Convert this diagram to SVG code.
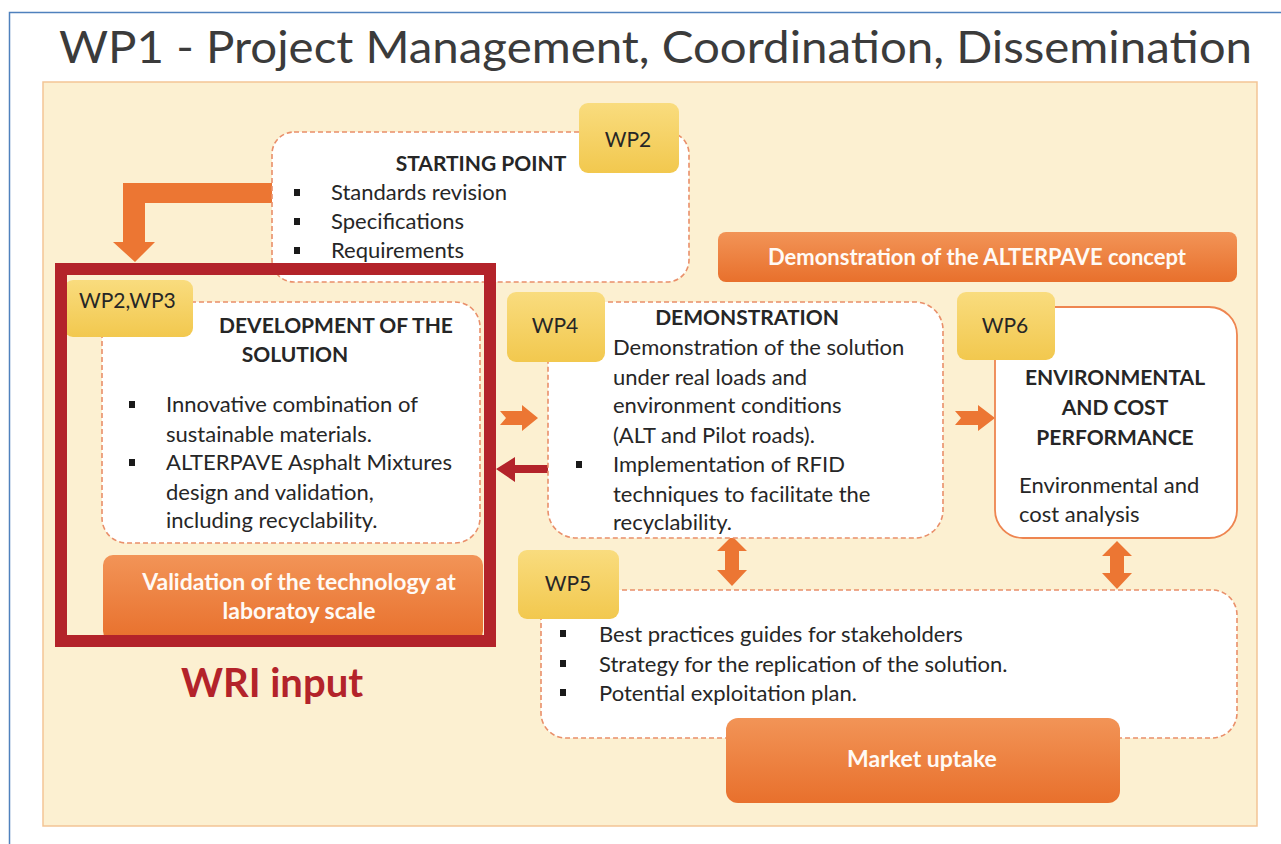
<svg xmlns="http://www.w3.org/2000/svg" width="1281" height="844" viewBox="0 0 1281 844">
  <defs>
    <linearGradient id="gOrange" x1="0" y1="0" x2="0" y2="1">
      <stop offset="0" stop-color="#f29457"/>
      <stop offset="1" stop-color="#e8702c"/>
    </linearGradient>
    <linearGradient id="gTag" x1="0" y1="0" x2="0" y2="1">
      <stop offset="0" stop-color="#f9dc7e"/>
      <stop offset="1" stop-color="#f2c84e"/>
    </linearGradient>
    <style>
      .frame { fill: none; stroke: #4f81bd; stroke-width: 1.5; }
      .panel { fill: #fcf0d1; stroke: #f3c595; stroke-width: 1.5; }
      .dash { fill: #ffffff; stroke: #e98f6a; stroke-width: 1.6; stroke-dasharray: 5 3; }
      .solid { fill: #ffffff; stroke: #ee8550; stroke-width: 1.8; }
      .tag { fill: url(#gTag); }
      .obox { fill: url(#gOrange); }
      .arrow { fill: #ec7633; }
      .t { font-family: Lato, "Liberation Sans", sans-serif; font-size: 22px; fill: #262626; }
      .lbl { font-size: 21px; }
      .b { font-weight: bold; font-size: 21px; }
      .w { fill: #fffaf5; font-weight: bold; font-size: 23px; }
      .c { text-anchor: middle; }
      .bullet { fill: #1a1a1a; }
    </style>
  </defs>

  <rect width="1281" height="844" fill="#ffffff"/>
  <!-- slide frame -->
  <path class="frame" d="M9.5 844 V12.5 H1281"/>

  <text x="59" y="63" font-family="Lato, 'Liberation Sans', sans-serif" font-size="44" fill="#3b3b3b" textLength="1193" lengthAdjust="spacingAndGlyphs">WP1 - Project Management, Coordination, Dissemination</text>

  <!-- background panel -->
  <rect class="panel" x="43" y="82" width="1214" height="744"/>

  <!-- connectors -->
  <g id="connectors">
    <!-- elbow arrow from starting point down to development -->
    <path class="arrow" d="M274 183 H123 V242 H113 L135 262 L155 242 H145 V203 H274 Z"/>
    <!-- development -> demonstration -->
    <path class="arrow" d="M500 411 H522 V405 L538 418 L522 431 V425 H500 L506 418 Z"/>
    <!-- demonstration -> environmental -->
    <path class="arrow" d="M955 411 H978 V405 L995 418 L978 431 V425 H955 L961 418 Z"/>
    <!-- demonstration <-> WP5 -->
    <path class="arrow" d="M732 536 L747 551 H739 V570 H747 L732 586 L717 570 H725 V551 H717 Z"/>
    <!-- environmental <-> WP5 -->
    <path class="arrow" d="M1117 541 L1132 556 H1124 V573 H1132 L1117 589 L1102 573 H1110 V556 H1102 Z"/>
  </g>

  <!-- starting point -->
  <g id="starting-point">
    <rect class="dash" x="272" y="132" width="417" height="150" rx="22"/>
    <rect class="tag" x="579" y="103" width="100" height="70" rx="9"/>
    <text class="t lbl c" x="628" y="147">WP2</text>
    <text class="t b c" x="481" y="171">STARTING POINT</text>
    <rect class="bullet" x="294" y="189" width="6" height="7"/>
    <rect class="bullet" x="294" y="218" width="6" height="7"/>
    <rect class="bullet" x="294" y="247" width="6" height="7"/>
    <text class="t" x="331" y="200">Standards revision</text>
    <text class="t" x="331" y="229">Specifications</text>
    <text class="t" x="331" y="258">Requirements</text>
  </g>

  <!-- concept banner -->
  <g id="concept-banner">
    <rect class="obox" x="718" y="232" width="519" height="50" rx="8"/>
    <text class="t w c" x="977" y="265" style="font-size:22px">Demonstration of the ALTERPAVE concept</text>
  </g>

  <!-- development of the solution -->
  <g id="development">
    <rect class="dash" x="102" y="302" width="378" height="241" rx="25"/>
    <rect class="tag" x="64" y="280" width="129" height="57" rx="9"/>
    <text class="t lbl" x="79" y="308">WP2,WP3</text>
    <text class="t b c" x="336" y="333">DEVELOPMENT OF THE</text>
    <text class="t b c" x="295" y="362">SOLUTION</text>
    <rect class="bullet" x="129" y="401" width="6" height="7"/>
    <rect class="bullet" x="129" y="459" width="6" height="7"/>
    <text class="t" x="166" y="412">Innovative combination of</text>
    <text class="t" x="166" y="442">sustainable materials.</text>
    <text class="t" x="166" y="470">ALTERPAVE Asphalt Mixtures</text>
    <text class="t" x="166" y="500">design and validation,</text>
    <text class="t" x="166" y="528">including recyclability.</text>
  </g>

  <!-- laboratory validation -->
  <g id="lab-validation">
    <rect class="obox" x="103" y="555" width="380" height="86" rx="10"/>
    <text class="t w c" x="299" y="590">Validation of the technology at</text>
    <text class="t w c" x="299" y="619">laboratoy scale</text>
  </g>

  <!-- WRI highlight -->
  <g id="wri-input">
    <rect x="61" y="269" width="429" height="372" fill="none" stroke="#b3232a" stroke-width="12"/>
    <text x="272" y="697" text-anchor="middle" font-family="Lato, 'Liberation Sans', sans-serif" font-size="40" font-weight="bold" fill="#b3232a">WRI input</text>
    <path d="M548 465 H515 V457 L496 469 L515 482 V473 H548 Z" fill="#b3232a"/>
  </g>

  <!-- demonstration -->
  <g id="demonstration">
    <rect class="dash" x="548" y="302" width="395" height="236" rx="28"/>
    <rect class="tag" x="507" y="292" width="98" height="70" rx="9"/>
    <text class="t lbl c" x="555" y="333">WP4</text>
    <text class="t b c" x="747" y="325">DEMONSTRATION</text>
    <text class="t" x="613" y="355">Demonstration of the solution</text>
    <text class="t" x="613" y="385">under real loads and</text>
    <text class="t" x="613" y="413">environment conditions</text>
    <text class="t" x="613" y="443">(ALT and Pilot roads).</text>
    <rect class="bullet" x="576" y="461" width="6" height="7"/>
    <text class="t" x="613" y="472">Implementation of RFID</text>
    <text class="t" x="613" y="502">techniques to facilitate the</text>
    <text class="t" x="613" y="530">recyclability.</text>
  </g>

  <!-- environmental and cost performance -->
  <g id="environmental">
    <rect class="solid" x="995" y="307" width="242" height="231" rx="28"/>
    <rect class="tag" x="957" y="292" width="98" height="68" rx="9"/>
    <text class="t lbl c" x="1005" y="333">WP6</text>
    <text class="t b c" x="1115" y="385">ENVIRONMENTAL</text>
    <text class="t b c" x="1115" y="415">AND COST</text>
    <text class="t b c" x="1115" y="445">PERFORMANCE</text>
    <text class="t" x="1019" y="493">Environmental and</text>
    <text class="t" x="1019" y="522">cost analysis</text>
  </g>

  <!-- WP5 exploitation -->
  <g id="exploitation">
    <rect class="dash" x="541" y="590" width="696" height="148" rx="25"/>
    <rect class="tag" x="518" y="550" width="101" height="69" rx="9"/>
    <text class="t lbl c" x="568" y="591">WP5</text>
    <rect class="bullet" x="560" y="630" width="6" height="7"/>
    <rect class="bullet" x="560" y="660" width="6" height="7"/>
    <rect class="bullet" x="560" y="689" width="6" height="7"/>
    <text class="t" x="599" y="642">Best practices guides for stakeholders</text>
    <text class="t" x="599" y="672">Strategy for the replication of the solution.</text>
    <text class="t" x="599" y="701">Potential exploitation plan.</text>
  </g>

  <!-- market uptake -->
  <g id="market-uptake">
    <rect class="obox" x="726" y="718" width="394" height="85" rx="12"/>
    <text class="t w c" x="922" y="767">Market uptake</text>
  </g>
</svg>
